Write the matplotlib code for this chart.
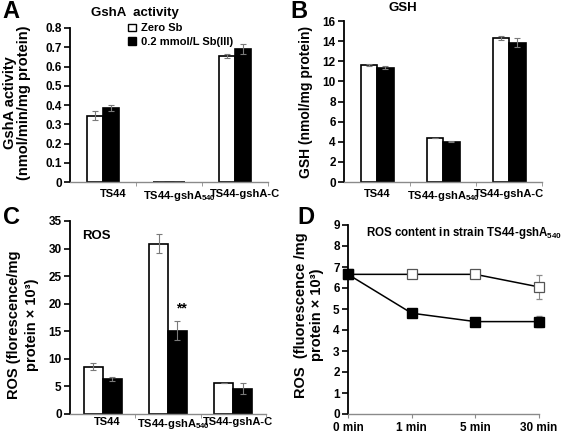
import matplotlib
matplotlib.use("Agg")
import matplotlib.pyplot as plt
import matplotlib.transforms as mtransforms
from matplotlib.patches import Patch
import numpy as np

plt.rcParams['font.family'] = ['Liberation Sans', 'DejaVu Sans']
plt.rcParams['font.weight'] = 'bold'
plt.rcParams['mathtext.fontset'] = 'custom'
plt.rcParams['mathtext.rm'] = 'Liberation Sans:bold'
plt.rcParams['mathtext.bf'] = 'Liberation Sans:bold'
plt.rcParams['mathtext.default'] = 'bf'

# data
strains = ['TS44', 'TS44-gshA$_{540}$', 'TS44-gshA-C']
strains_b = ['TS44', 'TS44-gshA$_{540}$', 'TS44-gshA-C']

gsha_zero = [0.345, 0.002, 0.655]
gsha_zero_err = [0.022, 0.0, 0.01]
gsha_sb = [0.385, 0.002, 0.692]
gsha_sb_err = [0.015, 0.0, 0.025]

gsh_zero = [11.65, 4.35, 14.3]
gsh_zero_err = [0.1, 0.0, 0.2]
gsh_sb = [11.35, 4.0, 13.85]
gsh_sb_err = [0.15, 0.05, 0.45]

ros_zero = [8.6, 30.9, 5.6]
ros_zero_err = [0.6, 1.7, 0.0]
ros_sb = [6.4, 15.1, 4.6]
ros_sb_err = [0.4, 1.7, 1.0]

times = ['0 min', '1 min', '5 min', '30 min']
ros_t_zero = [6.65, 6.65, 6.65, 6.05]
ros_t_zero_err = [0.0, 0.1, 0.05, 0.55]
ros_t_sb = [6.65, 4.8, 4.4, 4.4]
ros_t_sb_err = [0.0, 0.05, 0.12, 0.25]

W, H = 567, 433
fig = plt.figure(figsize=(5.67, 4.33), dpi=100)
FS = 8.5
YL = 10.5


def box(l, t, r, b):
    return [l / W, 1 - b / H, (r - l) / W, (b - t) / H]


def style(ax):
    for s in ['top', 'right']:
        ax.spines[s].set_visible(False)
    ax.spines['left'].set_linewidth(1.3)
    ax.spines['bottom'].set_color('#8a8a8a')
    ax.spines['bottom'].set_linewidth(1.0)
    ax.tick_params(axis='y', direction='out', length=4, width=1.2, labelsize=FS, pad=2)
    ax.tick_params(axis='x', which='major', length=0, labelsize=8, pad=5)
    ax.tick_params(axis='x', which='minor', length=3, color='#8a8a8a', direction='out')


def bars(ax, zero, zero_err, sb, sb_err, width, labels):
    x = np.arange(len(zero))
    ek = dict(ecolor='#7a7a7a', elinewidth=0.8, capsize=2, capthick=0.8)
    ax.bar(x - width / 2, zero, width, yerr=zero_err, color='white',
           edgecolor='black', linewidth=1.2, error_kw=ek)
    ax.bar(x + width / 2, sb, width, yerr=sb_err, color='black',
           edgecolor='black', linewidth=1.2, error_kw=ek)
    ax.set_xlim(-0.5, len(zero) - 0.5)
    ax.set_xticks(x)
    ax.set_xticklabels(labels)
    ax.set_xticks(np.arange(len(zero)) + 0.5, minor=True)
    style(ax)


def shift_labels(ax, px):
    off = mtransforms.ScaledTranslation(px / 100, 0, fig.dpi_scale_trans)
    for lab in ax.get_xticklabels():
        lab.set_transform(lab.get_transform() + off)


# A
axA = fig.add_axes(box(70, 28, 268, 182))
bars(axA, gsha_zero, gsha_zero_err, gsha_sb, gsha_sb_err, 0.24, strains)
axA.set_ylim(0, 0.8)
axA.set_yticks(np.arange(0, 0.81, 0.1))
axA.set_yticklabels(['0'] + ['%.1f' % v for v in np.arange(0.1, 0.81, 0.1)])
shift_labels(axA, 10)
fig.text(135 / W, 1 - 13 / H, 'GshA  activity', ha='center', va='center', fontsize=9.5)
fig.text(17 / W, 1 - 103 / H, 'GshA activity\n(nmol/min/mg protein)', rotation=90,
         ha='center', va='center', fontsize=YL, linespacing=1.05)
axA.legend(handles=[Patch(facecolor='white', edgecolor='black', linewidth=1.0),
                    Patch(facecolor='black', edgecolor='black')],
           labels=['Zero Sb', '0.2 mmol/L Sb(III)'],
           loc='upper left', bbox_to_anchor=((124 - 70) / 198, 1 + 9 / 154),
           frameon=False, fontsize=8, handlelength=0.7, handleheight=0.7,
           handletextpad=0.4, labelspacing=0.3, borderaxespad=0)

# B
axB = fig.add_axes(box(344, 21, 542, 182))
bars(axB, gsh_zero, gsh_zero_err, gsh_sb, gsh_sb_err, 0.25, strains_b)
axB.set_ylim(0, 16)
axB.set_yticks(np.arange(0, 17, 2))
fig.text(403 / W, 1 - 8 / H, 'GSH', ha='center', va='center', fontsize=9.5)
fig.text(306 / W, 1 - 102 / H, 'GSH (nmol/mg protein)', rotation=90,
         ha='center', va='center', fontsize=10)

# C
axC = fig.add_axes(box(70, 221, 266, 414))
bars(axC, ros_zero, ros_zero_err, ros_sb, ros_sb_err, 0.29, strains)
axC.tick_params(axis='x', which='major', pad=2.5)
shift_labels(axC, 5)
axC.set_ylim(0, 35)
axC.set_yticks(np.arange(0, 36, 5))
axC.text(-0.1, 32.3, 'ROS', ha='center', va='center', fontsize=9.5)
axC.text(1 + 0.2, 19.2, '**', ha='center', va='center', fontsize=10)
fig.text(23 / W, 1 - 325 / H, 'ROS (florescence/mg\nprotein \u00d7 10\u00b3)', rotation=90,
         ha='center', va='center', fontsize=YL, linespacing=1.4)

# D
axD = fig.add_axes(box(348, 225, 539, 414))
xt = np.arange(len(times))
axD.errorbar(xt, ros_t_zero, yerr=ros_t_zero_err, color='black', lw=1.1,
             marker='s', ms=6.5, mfc='white', mec='#555555', mew=0.9,
             ecolor='#8a8a8a', elinewidth=0.8, capsize=2, clip_on=False)
axD.errorbar(xt, ros_t_sb, yerr=ros_t_sb_err, color='black', lw=1.1,
             marker='s', ms=6.5, mfc='black', mec='black',
             ecolor='#8a8a8a', elinewidth=0.8, capsize=2, clip_on=False)
axD.set_xlim(0, 3)
axD.set_ylim(0, 9)
axD.set_yticks(np.arange(0, 10, 1))
axD.set_xticks(xt)
axD.set_xticklabels(times)
style(axD)
axD.tick_params(axis='x', which='major', length=3, color='#8a8a8a', pad=3, labelsize=8.5)
axD.text(0.28, 8.6, 'ROS content in strain TS44-gshA$_{540}$', ha='left', va='center',
         fontsize=8.3, clip_on=False)
fig.text(309 / W, 1 - 315 / H, 'ROS  (fluorescence /mg\nprotein \u00d7 10\u00b3)', rotation=90,
         ha='center', va='center', fontsize=YL, linespacing=1.25)

# panel letters
for letter, (px, py) in zip('ABCD', [(11, 12), (299, 12), (11, 218), (306, 218)]):
    fig.text(px / W, 1 - py / H, letter, ha='center', va='center', fontsize=17,
             fontweight='bold')

fig.savefig('out.png', dpi=100)
